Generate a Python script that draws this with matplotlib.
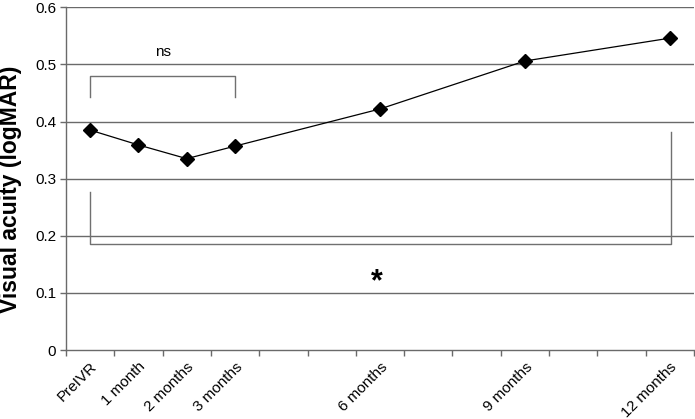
import matplotlib
matplotlib.use("Agg")
import matplotlib.pyplot as plt
import numpy as np

plt.rcParams['font.family'] = ['Liberation Sans', 'DejaVu Sans']

# Data
months = [0, 1, 2, 3, 6, 9, 12]
labels = ["PreIVR", "1 month", "2 months", "3 months", "6 months", "9 months", "12 months"]
logmar = [0.385, 0.359, 0.335, 0.357, 0.422, 0.506, 0.546]
yticks = [0, 0.1, 0.2, 0.3, 0.4, 0.5, 0.6]
ytick_labels = ["0", "0.1", "0.2", "0.3", "0.4", "0.5", "0.6"]

fig = plt.figure(figsize=(6.95, 4.19), dpi=100)
ax = fig.add_axes([66/695, 1-350/419, 628/695, (350-7.3)/419])

grid_c = '#6a6a6a'
for yv in yticks[1:]:
    ax.axhline(yv, color=grid_c, lw=1.0, zorder=1)

ax.plot(months, logmar, color='black', lw=0.9, marker='D', ms=6.8,
        markerfacecolor='black', markeredgecolor='black', zorder=3)

ax.set_xlim(-0.5, 12.5)
ax.set_ylim(0, 0.6)
ax.set_yticks(yticks)
ax.set_yticklabels(ytick_labels, fontsize=11)
ax.tick_params(axis='y', direction='out', length=4, width=1.0, color=grid_c, pad=3)

ax.set_xticks(months)
ax.set_xticklabels(labels, rotation=45, ha='right', va='top',
                   rotation_mode='anchor', fontsize=11)
ax.set_xticks(np.arange(-0.5, 12.6, 1.0), minor=True)
ax.tick_params(axis='x', which='major', length=0, pad=7)
ax.tick_params(axis='x', which='minor', direction='out', length=4, width=1.0, color=grid_c)

for s in ['top', 'right']:
    ax.spines[s].set_visible(False)
for s in ['left', 'bottom']:
    ax.spines[s].set_color(grid_c)
    ax.spines[s].set_linewidth(1.0)

br_c = '#707070'
# ns bracket
ax.plot([0, 0, 3, 3], [0.4435, 0.4795, 0.4795, 0.4435], color=br_c, lw=1.0, zorder=2)
ax.text(1.5, 0.522, "ns", ha='center', va='center', fontsize=11)
# significance bracket
ax.plot([0, 0, 12.02, 12.02], [0.277, 0.185, 0.185, 0.381], color=br_c, lw=1.0, zorder=2)
ax.text(5.93, 0.118, "*", ha='center', va='center', fontsize=22, fontweight='bold')

fig.text(11/695, 1-189/419, "Visual acuity (logMAR)", rotation=90, ha='center', va='center',
         fontsize=16.5, fontweight='bold')

fig.savefig("out.png", dpi=100)
